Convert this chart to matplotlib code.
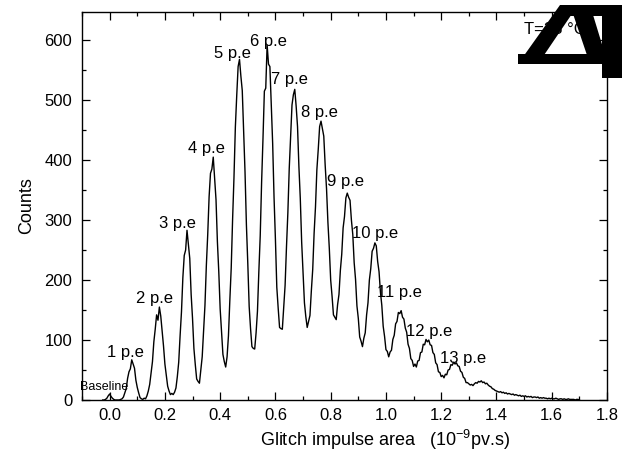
import numpy as np
import matplotlib
matplotlib.use("Agg")
import matplotlib.pyplot as plt
from matplotlib.patches import Polygon
from matplotlib.ticker import MultipleLocator, FormatStrFormatter

plt.rcParams['font.family'] = ['Liberation Sans', 'DejaVu Sans']
plt.rcParams['mathtext.fontset'] = 'custom'
plt.rcParams['mathtext.rm'] = 'Liberation Sans'

# histogram bins: first centre and width (10^-9 pv.s)
bin_start = -0.025
bin_width = 0.005

# counts per bin (one row = 0.1 of area)
counts = [
    0, 0, 1, 3, 7,  # -0.025 .. -0.005
    10, 6, 3, 1, 0, 0, 0, 0, 1, 2, 5, 12, 19, 36, 47, 52, 67, 60, 53, 33,  # 0.0
    21, 12, 4, 2, 1, 3, 2, 7, 15, 26, 45, 64, 97, 118, 142, 133, 155, 140, 115, 90,  # 0.1
    60, 42, 23, 15, 9, 11, 9, 13, 20, 39, 63, 107, 147, 204, 241, 250, 283, 260, 236, 176,  # 0.2
    136, 86, 59, 35, 31, 28, 50, 72, 116, 158, 224, 276, 339, 378, 385, 405, 370, 334, 264, 214,  # 0.3
    152, 114, 76, 64, 55, 72, 107, 166, 220, 301, 371, 455, 508, 556, 568, 540, 516, 446, 380, 292,  # 0.4
    228, 156, 119, 89, 86, 85, 112, 148, 214, 274, 363, 436, 515, 520, 592, 560, 556, 492, 428, 338,  # 0.5
    268, 188, 153, 121, 119, 118, 155, 191, 255, 312, 386, 437, 492, 509, 518, 490, 456, 389, 336, 263,  # 0.6
    214, 162, 139, 121, 131, 141, 182, 218, 278, 322, 384, 418, 456, 465, 452, 440, 392, 352, 296, 253,  # 0.7
    200, 173, 142, 138, 134, 159, 176, 216, 243, 287, 306, 337, 345, 338, 333, 300, 276, 229, 201, 157,  # 0.8
    136, 105, 98, 89, 103, 112, 142, 162, 200, 219, 248, 253, 262, 257, 231, 214, 180, 158, 123, 106,  # 0.9
    84, 81, 72, 80, 83, 101, 108, 127, 131, 146, 144, 149, 138, 135, 120, 113, 93, 86, 69, 66,  # 1.0
    56, 60, 55, 65, 66, 79, 80, 93, 92, 101, 97, 100, 92, 91, 79, 76, 62, 59, 47, 46,  # 1.1
    39, 41, 37, 43, 42, 50, 51, 59, 58, 63, 60, 62, 57, 56, 48, 46, 38, 36, 29, 29,  # 1.2
    27, 25, 26, 24, 27, 29, 28, 31, 30, 32, 29, 30, 27, 28, 25, 23, 22, 19, 18, 16,  # 1.3
    15, 14, 13, 14, 12, 13, 11, 12, 10, 11, 10, 9, 10, 8, 9, 8, 7, 8, 6, 7,  # 1.4
    6, 7, 5, 6, 5, 6, 4, 5, 5, 4, 5, 3, 4, 3, 4, 3, 3, 2, 3, 2,  # 1.5
    3, 2, 2, 3, 2, 1, 2, 2, 1, 2, 1, 1, 2, 1, 1, 1, 1, 0, 1, 1,  # 1.6
    0,
]
area = bin_start + bin_width * np.arange(len(counts))

peak_labels = ["1 p.e", "2 p.e", "3 p.e", "4 p.e", "5 p.e", "6 p.e", "7 p.e",
               "8 p.e", "9 p.e", "10 p.e", "11 p.e", "12 p.e", "13 p.e"]
label_x = [-0.011, 0.096, 0.179, 0.285, 0.379, 0.509, 0.585,
           0.692, 0.787, 0.876, 0.967, 1.074, 1.197]
label_y = [80, 170, 295, 420, 578, 597, 534, 480, 364, 278, 179, 114, 70]

fig = plt.figure(figsize=(6.22, 4.55), dpi=100)
ax = fig.add_axes([82 / 622, 1 - 400 / 455, 525 / 622, 388 / 455])

ax.plot(area, counts, color='black', lw=1.0)

ax.set_xlim(-0.1, 1.8)
ax.set_ylim(0, 647)
ax.xaxis.set_major_locator(MultipleLocator(0.2))
ax.xaxis.set_minor_locator(MultipleLocator(0.1))
ax.xaxis.set_major_formatter(FormatStrFormatter('%.1f'))
ax.yaxis.set_major_locator(MultipleLocator(100))
ax.yaxis.set_minor_locator(MultipleLocator(50))
ax.tick_params(which='both', direction='in', top=True, right=True, labelsize=12)
ax.tick_params(which='major', length=5.5, width=0.9)
ax.tick_params(which='minor', length=3, width=0.9)
ax.tick_params(axis='y', pad=7)
ax.tick_params(axis='x', pad=6)
for s in ax.spines.values():
    s.set_linewidth(1.0)

ax.set_xlabel(r'Glitch impulse area   (10$^{\mathregular{-9}}$pv.s)', fontsize=13)
ax.xaxis.set_label_coords(0.577, -0.072)
ax.set_ylabel('Counts', fontsize=13)
ax.yaxis.set_label_coords(-0.09, 0.5)

for txt, lx, ly in zip(peak_labels, label_x, label_y):
    ax.text(lx, ly, txt, fontsize=12, ha='left', va='center')
ax.text(-0.109, 22, 'Baseline', fontsize=9, ha='left', va='center')
ax.text(1.5, 617, 'T=25 °C', fontsize=12, ha='left', va='center')


# the garbled black glyph over the temperature note (image pixels)
def px(points):
    return [(x / 622, 1 - y / 455) for x, y in points]


blob = [
    [(518, 64), (538, 64), (578, 5), (560, 5)],
    [(518, 54), (606, 54), (606, 64), (518, 64)],
    [(560, 5), (622, 5), (622, 16), (560, 16)],
    [(570, 5), (590, 5), (608, 64), (590, 64)],
    [(602, 5), (622, 5), (622, 78), (602, 78)],
]
for shape in blob:
    fig.add_artist(Polygon(px(shape), closed=True, facecolor='black',
                           edgecolor='none', transform=fig.transFigure))

fig.savefig('out.png', dpi=100)
